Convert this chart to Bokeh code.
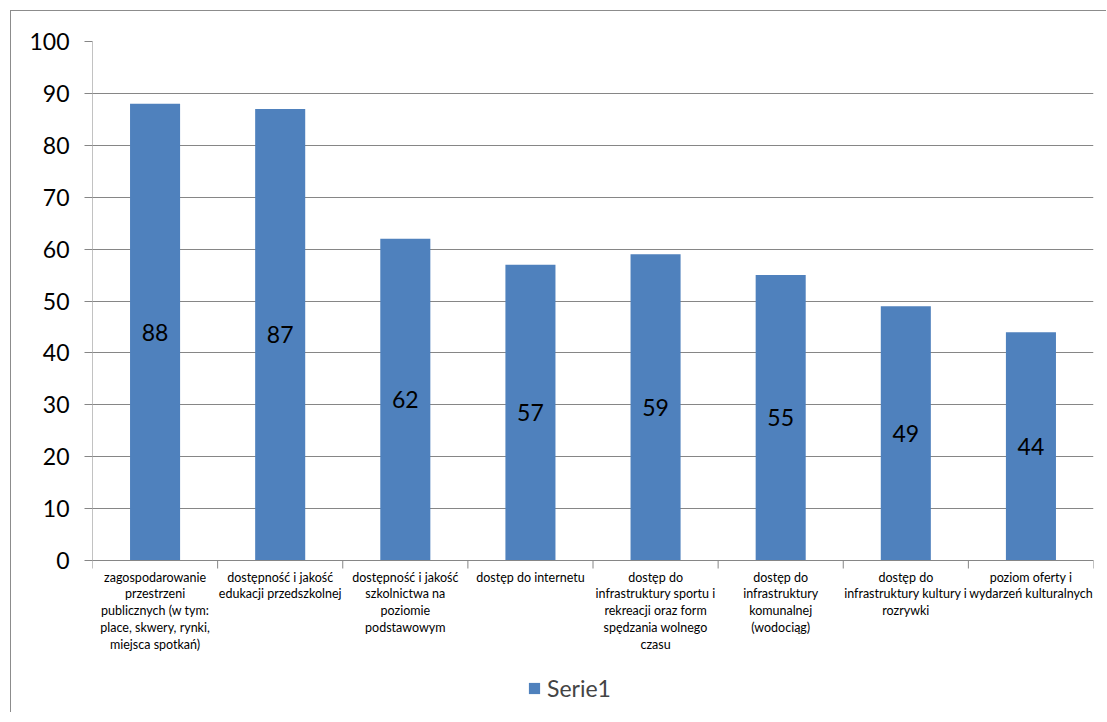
from bokeh.plotting import figure
from bokeh.models import Range1d, FixedTicker, Legend, LegendItem, ColumnDataSource
from bokeh.core.properties import value
from bokeh.embed import file_html
from bokeh.resources import INLINE

categories = [
    "zagospodarowanie\nprzestrzeni\npublicznych (w tym:\nplace, skwery, rynki,\nmiejsca spotkań)",
    "dostępność i jakość\nedukacji przedszkolnej",
    "dostępność i jakość\nszkolnictwa na\npoziomie\npodstawowym",
    "dostęp do internetu",
    "dostęp do\ninfrastruktury sportu i\nrekreacji oraz form\nspędzania wolnego\nczasu",
    "dostęp do\ninfrastruktury\nkomunalnej\n(wodociąg)",
    "dostęp do\ninfrastruktury kultury i\nrozrywki",
    "poziom oferty i\nwydarzeń kulturalnych",
]
values = [88, 87, 62, 57, 59, 55, 49, 44]
series_name = "Serie1"
y_ticks = list(range(0, 101, 10))

FONT = "Lato"
GRAY = "#868686"
n = len(categories)
centers = [i + 0.5 for i in range(n)]
bounds = list(range(n + 1))

# layout: value axis occupies 519px; extra 152px below zero for category labels + legend
AXIS_PX = 519
EXTRA_PX = 152
ymax = y_ticks[-1]
ymin = -ymax * EXTRA_PX / AXIS_PX
tick_len = 8 * ymax / AXIS_PX

src = ColumnDataSource(dict(
    x=centers, top=values, mid=[v / 2 for v in values],
    lbl=[str(v) for v in values],
))

p = figure(
    frame_width=1001, frame_height=AXIS_PX + EXTRA_PX,
    min_border_left=81, min_border_right=13, min_border_top=30, min_border_bottom=0,
    x_range=Range1d(0, n), y_range=Range1d(ymin, ymax),
    output_backend="svg", toolbar_location=None,
    styles={"border-top": "1px solid #8c8c8c", "border-left": "1px solid #8c8c8c",
            "margin-top": "10px", "margin-left": "10px"},
)
p.outline_line_color = None
p.background_fill_color = "white"
p.border_fill_color = "white"

# y axis (line drawn only over the value span)
p.yaxis.ticker = FixedTicker(ticks=y_ticks)
p.yaxis.axis_line_color = None
p.yaxis.major_tick_line_color = GRAY
p.yaxis.major_tick_out = 8
p.yaxis.major_tick_in = 0
p.yaxis.minor_tick_line_color = None
p.yaxis.major_label_text_font = FONT
p.yaxis.major_label_text_font_size = "23px"
p.yaxis.major_label_text_color = "black"
p.yaxis.major_label_standoff = 15
p.ygrid.grid_line_color = GRAY
p.ygrid.ticker = FixedTicker(ticks=y_ticks)
p.xgrid.grid_line_color = None
p.xaxis.visible = False

bars = p.vbar(x="x", top="top", width=0.4, source=src, fill_color="#4F81BD", line_color=None)
p.text(x="x", y="mid", text="lbl", source=src, text_align="center", text_baseline="middle",
       text_font=value(FONT), text_font_size="23px", text_color="black")

# value-axis line, category axis line and boundary ticks
p.segment(x0=[0], y0=[0], x1=[0], y1=[ymax], line_color=GRAY, line_width=1)
p.segment(x0=[0], y0=[0], x1=[n], y1=[0], line_color=GRAY, line_width=1)
p.segment(x0=bounds, y0=[0] * len(bounds), x1=bounds, y1=[-tick_len] * len(bounds),
          line_color=GRAY, line_width=1)

# category labels
p.text(x=centers, y=[0] * n, text=categories, y_offset=9,
       text_align="center", text_baseline="top", text_line_height=1.13,
       text_font=value(FONT), text_font_size="12.5px", text_color="black")

legend = Legend(items=[LegendItem(label=series_name, renderers=[bars])],
                orientation="horizontal", location=(435, 10),
                label_text_font=FONT, label_text_font_size="23px",
                glyph_width=14, glyph_height=14, border_line_color=None,
                background_fill_alpha=0, margin=0, padding=0, label_standoff=6)
p.add_layout(legend, "center")

open("out.html", "w").write(file_html(p, INLINE))
